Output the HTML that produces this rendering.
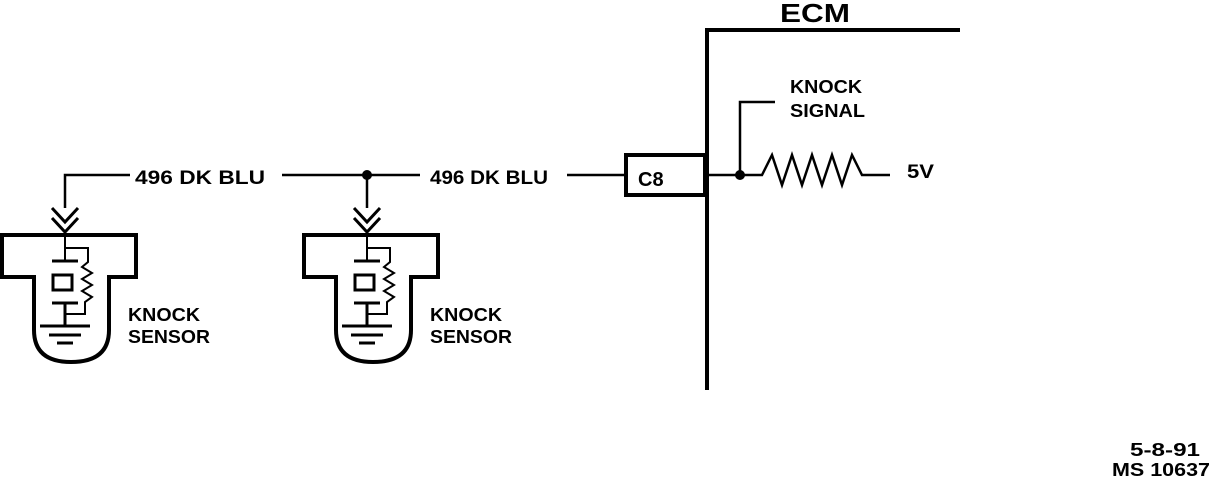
<!DOCTYPE html>
<html><head><style>
html,body{margin:0;padding:0;background:#fff;width:1216px;height:480px;overflow:hidden}
text{font-family:"Liberation Sans",sans-serif;font-weight:bold;fill:#000}
</style></head><body>
<svg width="1216" height="480" viewBox="0 0 1216 480" xmlns="http://www.w3.org/2000/svg">
<defs>
<g id="sensor" fill="none" stroke="#000">
  <path d="M2,235 H136 V277 H109 V330 Q109,362 71,362 Q34,362 34,330 V277 H2 Z" stroke-width="4"/>
  <path d="M52,208 L65,222 L78,208 M52,218 L65,232 L78,218" stroke-width="3"/>
  <path d="M65,232 V260" stroke-width="2"/>
  <path d="M52,261 H78" stroke-width="3"/>
  <rect x="53" y="275" width="19" height="15" stroke-width="3"/>
  <path d="M52,303 H78 M65,303 V325" stroke-width="3"/>
  <path d="M40,326 H90 M49,335 H81 M57,343 H73" stroke-width="3"/>
  <path d="M65,248 H88 V262 L82,267 L92,273 L82,279 L92,285 L82,291 L92,297 L85,302 V314 H65" stroke-width="2"/>
</g>
</defs>
<use href="#sensor"/>
<use href="#sensor" x="302"/>
<g stroke="#000" stroke-width="2.5" fill="none">
  <path d="M65,208 V175 H130"/>
  <path d="M282,175 H420"/>
  <path d="M367,175 V208"/>
  <path d="M567,175 H625"/>
  <path d="M705,175 H762 L772,155 L782,185 L792,155 L802,185 L812,155 L822,185 L832,155 L842,185 L852,155 L862,175 H890"/>
  <path d="M740,175 V102 H775"/>
</g>
<circle cx="367" cy="175" r="5" fill="#000"/>
<circle cx="740" cy="175" r="5" fill="#000"/>
<rect x="626" y="155" width="79" height="40" fill="none" stroke="#000" stroke-width="4"/>
<path d="M707,390 V30 H960" stroke="#000" stroke-width="4" fill="none"/>
<text x="135" y="184" font-size="19" textLength="130" lengthAdjust="spacingAndGlyphs">496 DK BLU</text>
<text x="430" y="184" font-size="19" textLength="118" lengthAdjust="spacingAndGlyphs">496 DK BLU</text>
<text x="638" y="186" font-size="20">C8</text>
<text x="780" y="22" font-size="26" textLength="70" lengthAdjust="spacingAndGlyphs">ECM</text>
<text x="790" y="93" font-size="18" textLength="72" lengthAdjust="spacingAndGlyphs">KNOCK</text>
<text x="790" y="117" font-size="18" textLength="75" lengthAdjust="spacingAndGlyphs">SIGNAL</text>
<text x="907" y="178" font-size="19" textLength="27" lengthAdjust="spacingAndGlyphs">5V</text>
<text x="128" y="321" font-size="18" textLength="72" lengthAdjust="spacingAndGlyphs">KNOCK</text>
<text x="128" y="343" font-size="18" textLength="82" lengthAdjust="spacingAndGlyphs">SENSOR</text>
<text x="430" y="321" font-size="18" textLength="72" lengthAdjust="spacingAndGlyphs">KNOCK</text>
<text x="430" y="343" font-size="18" textLength="82" lengthAdjust="spacingAndGlyphs">SENSOR</text>
<text x="1130" y="456" font-size="18" textLength="70" lengthAdjust="spacingAndGlyphs">5-8-91</text>
<text x="1112" y="476" font-size="18" textLength="98" lengthAdjust="spacingAndGlyphs">MS 10637</text>
</svg>
</body></html>
